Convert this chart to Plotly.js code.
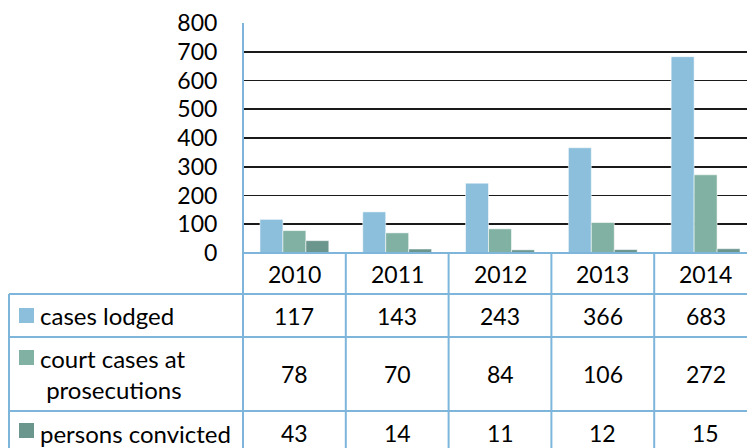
<!DOCTYPE html>
<html>
<head>
<meta charset="utf-8">
<script src="https://cdn.plot.ly/plotly-3.0.1.min.js"></script>
<style>
html,body{margin:0;padding:0;background:#fff;overflow:hidden;}
#chart{width:747px;height:448px;}
</style>
</head>
<body>
<div id="chart"></div>
<script>
// ---- data ----
const years = ["2010", "2011", "2012", "2013", "2014"];
const seriesNames = ["cases lodged", "court cases at<br> prosecutions", "persons convicted"];
const casesLodged = [117, 143, 243, 366, 683];
const courtCases = [78, 70, 84, 106, 272];
const personsConvicted = [43, 14, 11, 12, 15];
const yTicks = [0, 100, 200, 300, 400, 500, 600, 700, 800];

const colors = ["#8BBFDC", "#80B1A2", "#6B968E"];
const seriesValues = [casesLodged, courtCases, personsConvicted];

const W = 747, H = 448;
const plotL = 243, plotR = 747, plotT = 23, plotB = 253;
const FONT = "Lato, 'Open Sans', sans-serif";
const FS = 23;
const LFS = 24;
const lineBlue = "#7DB6DA";

const traces = seriesValues.map((vals, i) => ({
  type: "bar",
  x: years,
  y: vals,
  name: seriesNames[i],
  marker: {color: colors[i], line: {color: "rgba(255,255,255,0.55)", width: 1}},
  showlegend: false,
  hoverinfo: "skip"
}));

// pixel helpers (paper coords)
const px = x => (x - plotL) / (plotR - plotL);
const py = y => (plotB - y) / (plotB - plotT);

// table row boundaries (pixels)
const rowTops = [253, 294, 337, 411, 455];
const tableLeft = 9;
const keyCenters = [315.5, 357.5, 430.5];

const shapes = [];
const annotations = [];
function hline(y, x0, x1) {
  shapes.push({type: "line", xref: "paper", yref: "paper", x0: px(x0), x1: px(x1), y0: py(y), y1: py(y),
    line: {color: lineBlue, width: 2}});
}
hline(rowTops[0], plotL, 800);
for (let r = 1; r < rowTops.length - 1; r++) hline(rowTops[r], tableLeft, 800);
shapes.push({type: "line", xref: "paper", yref: "paper", x0: px(tableLeft), x1: px(tableLeft),
  y0: py(rowTops[1]), y1: py(470), line: {color: lineBlue, width: 2}});
shapes.push({type: "line", xref: "paper", yref: "paper", x0: 0, x1: 0,
  y0: 1, y1: py(470), line: {color: lineBlue, width: 2}});
for (let i = 0; i < years.length; i++) {
  shapes.push({type: "line", xref: "x", yref: "paper", x0: i + 0.5, x1: i + 0.5,
    y0: py(rowTops[0]), y1: py(470), line: {color: lineBlue, width: 2}});
}
years.forEach((yr, i) => {
  annotations.push({xref: "x", yref: "paper", x: i, y: py((rowTops[0] + rowTops[1]) / 2),
    text: yr, showarrow: false, font: {family: FONT, size: FS, color: "#000"}, xanchor: "center", yanchor: "middle"});
});
seriesValues.forEach((vals, r) => {
  const yc = (rowTops[r + 1] + rowTops[r + 2]) / 2;
  vals.forEach((v, i) => {
    annotations.push({xref: "x", yref: "paper", x: i, y: py(yc), text: String(v), showarrow: false,
      font: {family: FONT, size: FS, color: "#000"}, xanchor: "center", yanchor: "middle"});
  });
  const kc = keyCenters[r];
  shapes.push({type: "rect", xref: "paper", yref: "paper", x0: px(19), x1: px(34),
    y0: py(kc + 7.5), y1: py(kc - 7.5), line: {width: 0}, fillcolor: colors[r]});
  annotations.push({xref: "paper", yref: "paper", x: px(38), y: py(yc), text: seriesNames[r],
    showarrow: false, align: "left", xanchor: "left", yanchor: "middle",
    font: {family: FONT, size: LFS, color: "#000"}});
});

const layout = {
  width: W, height: H,
  margin: {l: plotL, r: W - plotR, t: plotT, b: H - plotB, pad: 0},
  paper_bgcolor: "#fff", plot_bgcolor: "#fff",
  barmode: "group", bargap: 0.33, bargroupgap: 0,
  xaxis: {type: "category", range: [-0.5, -0.5 + (plotR - plotL) / 102.8], showticklabels: false,
    showgrid: false, zeroline: false, showline: false, ticks: "", fixedrange: true},
  yaxis: {range: [0, 800], tickvals: yTicks, ticktext: yTicks.map(String), showgrid: true,
    gridcolor: "#1a1a1a", gridwidth: 1.8, zeroline: false, showline: false, ticks: "outside", ticklen: 20,
    tickcolor: "rgba(0,0,0,0)", tickfont: {family: FONT, size: FS, color: "#000"}, fixedrange: true},
  shapes: shapes,
  annotations: annotations
};

Plotly.newPlot("chart", traces, layout, {staticPlot: true, displayModeBar: false});
</script>
</body>
</html>
